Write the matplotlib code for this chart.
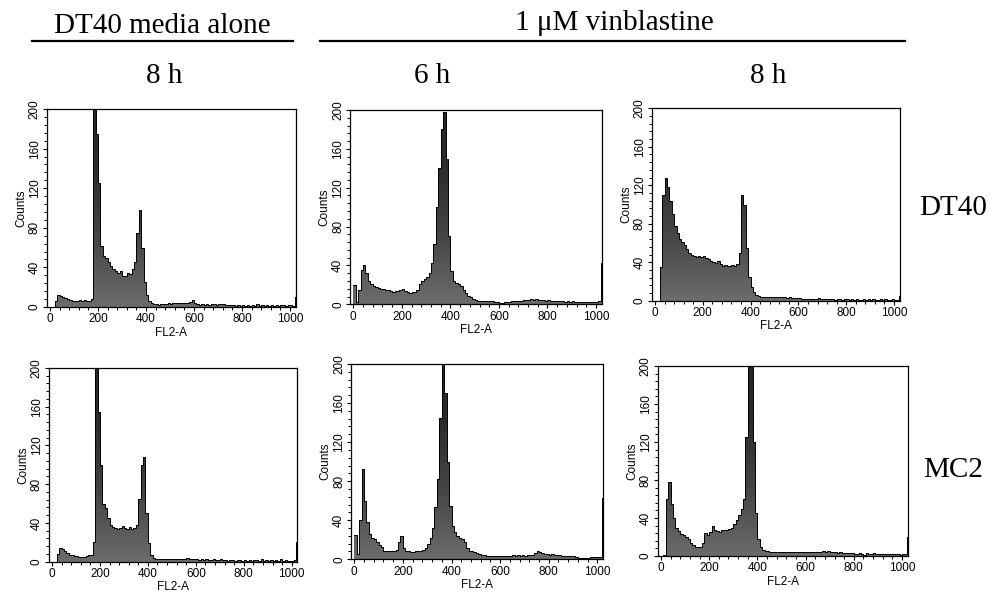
import numpy as np
import matplotlib
matplotlib.use('Agg')
import matplotlib.pyplot as plt
from matplotlib.colors import LinearSegmentedColormap
from matplotlib.ticker import MultipleLocator

# histogram counts, one value per 10 channels (FL2-A 0..1020)
media_dt40 = [0, 0, 6, 12, 11, 10, 9, 8, 7, 6,
              6, 6, 7, 6, 7, 6, 6, 8, 200, 175,
              125, 62, 52, 49, 45, 41, 38, 36, 34, 36,
              31, 31, 34, 33, 38, 45, 75, 98, 60, 25,
              12, 6, 4, 3, 3, 2, 3, 3, 3, 4,
              3, 4, 4, 4, 4, 4, 4, 4, 5, 7,
              4, 3, 2, 3, 2, 3, 2, 3, 3, 2,
              3, 3, 3, 2, 2, 2, 2, 1, 2, 1,
              2, 1, 2, 1, 2, 1, 3, 1, 2, 1,
              2, 1, 2, 1, 2, 1, 2, 2, 1, 2,
              2, 1, 10]
vin6_dt40 = [20, 2, 15, 35, 40, 32, 24, 21, 19, 18,
             17, 16, 16, 15, 15, 14, 13, 14, 14, 15,
             16, 14, 13, 12, 13, 13, 15, 21, 24, 26,
             28, 32, 42, 62, 100, 140, 180, 198, 150, 70,
             34, 24, 22, 21, 19, 15, 12, 9, 7, 5,
             4, 3, 3, 3, 3, 3, 3, 3, 2, 2,
             1, 1, 2, 2, 2, 3, 3, 3, 3, 3,
             4, 4, 4, 5, 4, 5, 4, 4, 4, 3,
             4, 3, 3, 3, 3, 3, 3, 2, 3, 2,
             3, 2, 2, 2, 2, 2, 2, 2, 2, 2,
             2, 3, 42]
vin8_dt40 = [0, 0, 35, 110, 128, 118, 104, 90, 78, 70,
             64, 61, 58, 54, 50, 47, 46, 45, 46, 45,
             46, 44, 43, 41, 40, 39, 41, 38, 36, 37,
             36, 36, 37, 36, 38, 50, 110, 100, 55, 25,
             14, 9, 6, 5, 4, 4, 4, 4, 4, 4,
             4, 4, 4, 4, 4, 3, 4, 3, 3, 3,
             3, 2, 2, 2, 2, 2, 2, 2, 3, 2,
             2, 2, 2, 2, 2, 1, 2, 2, 1, 2,
             2, 1, 2, 1, 2, 1, 1, 2, 1, 2,
             1, 2, 1, 1, 2, 1, 2, 1, 1, 2,
             1, 1, 5]
media_mc2 = [0, 0, 8, 14, 13, 11, 9, 7, 7, 6,
             6, 5, 5, 5, 6, 7, 7, 20, 200, 155,
             100, 60, 55, 45, 38, 36, 35, 34, 35, 37,
             35, 34, 36, 34, 35, 38, 65, 100, 108, 50,
             19, 7, 4, 3, 3, 3, 3, 3, 3, 3,
             3, 3, 3, 3, 3, 3, 4, 3, 3, 3,
             3, 2, 3, 2, 3, 2, 2, 3, 2, 2,
             3, 2, 2, 1, 2, 2, 1, 2, 2, 1,
             2, 1, 2, 1, 2, 2, 1, 3, 1, 2,
             1, 2, 1, 2, 1, 3, 1, 2, 1, 1,
             1, 2, 20]
vin6_mc2 = [25, 5, 40, 92, 60, 38, 26, 22, 21, 18,
            15, 13, 9, 8, 8, 8, 9, 10, 18, 24,
            12, 9, 8, 7, 7, 8, 8, 8, 10, 12,
            16, 22, 32, 54, 82, 145, 200, 170, 100, 55,
            34, 28, 24, 22, 21, 18, 12, 9, 8, 7,
            6, 5, 4, 4, 3, 3, 3, 3, 3, 3,
            3, 3, 3, 3, 3, 4, 3, 4, 3, 4,
            3, 4, 4, 4, 6, 9, 7, 6, 5, 5,
            4, 5, 4, 4, 4, 3, 3, 3, 3, 3,
            3, 2, 1, 1, 1, 1, 1, 2, 2, 2,
            2, 2, 63]
vin8_mc2 = [0, 1, 60, 78, 55, 40, 30, 26, 23, 22,
            20, 18, 14, 12, 10, 10, 10, 14, 24, 22,
            25, 32, 27, 26, 25, 27, 27, 27, 28, 30,
            34, 38, 43, 50, 60, 125, 200, 200, 120, 45,
            18, 9, 6, 5, 5, 4, 4, 4, 4, 4,
            4, 4, 4, 4, 4, 4, 4, 4, 4, 4,
            4, 4, 4, 4, 4, 4, 4, 5, 4, 5,
            4, 4, 4, 3, 4, 3, 3, 3, 3, 3,
            2, 2, 3, 2, 1, 3, 2, 2, 3, 2,
            2, 2, 2, 2, 2, 2, 2, 2, 2, 1,
            2, 2, 20]

col_titles = ['8 h', '6 h', '8 h']
row_labels = ['DT40', 'MC2']
group_titles = ['DT40 media alone', '1 \u03bcM vinblastine']

panels = [media_dt40, vin6_dt40, vin8_dt40, media_mc2, vin6_mc2, vin8_mc2]

W, H = 992, 600
fig = plt.figure(figsize=(W / 100, H / 100), dpi=100)

# pixel frames of each plot: x of channel 0, x of channel 1000, y of count 0, y of count 200
frames = [(50, 290, 307, 109), (353.3, 596, 304.3, 110), (655, 894, 300.7, 108.3),
          (52, 291.7, 561.7, 368), (354.3, 597.3, 559.3, 364), (661, 902, 556, 366)]

cmap = LinearSegmentedColormap.from_list(
    'fill', [(0, '#6c6c6c'), (0.35, '#454545'), (0.7, '#2c2c2c'), (1, '#262626')])
grad = np.linspace(0, 1, 256).reshape(-1, 1)

for counts, (px0, px1, y0, y200) in zip(panels, frames):
    s = (px1 - px0) / 1000
    left = px0 - 12 * s
    ax = fig.add_axes([left / W, 1 - y0 / H, 1036 * s / W, (y0 - y200) / H])
    y = np.array(counts, dtype=float)
    x = np.arange(len(y)) * 10
    xs = np.append(x, x[-1] + 10)
    ys = np.append(y, y[-1])
    poly = ax.fill_between(xs, ys, step='post', color='none', lw=0)
    im = ax.imshow(grad, extent=[-12, 1030, 0, 200], origin='lower', aspect='auto',
                   cmap=cmap, zorder=1)
    im.set_clip_path(poly.get_paths()[0], transform=ax.transData)
    ax.step(xs, ys, where='post', color='black', lw=0.7, zorder=2)
    ax.set_xlim(-12, 1024)
    ax.set_ylim(0, 200)
    ax.xaxis.set_major_locator(MultipleLocator(200))
    ax.xaxis.set_minor_locator(MultipleLocator(40))
    ax.yaxis.set_major_locator(MultipleLocator(40))
    ax.yaxis.set_minor_locator(MultipleLocator(8))
    ax.tick_params(which='major', length=3, width=0.8, pad=1.5, labelsize=8.5)
    ax.tick_params(which='minor', length=2, width=0.7)
    for lab in ax.get_yticklabels():
        lab.set_rotation(90)
        lab.set_va('center')
    ax.set_xlabel('FL2-A', fontsize=8.5, labelpad=1, family='Liberation Sans')
    ax.set_ylabel('Counts', fontsize=8.5, labelpad=1, family='Liberation Sans')
    for lab in ax.get_xticklabels() + ax.get_yticklabels():
        lab.set_family('Liberation Sans')
    for sp in ax.spines.values():
        sp.set_linewidth(0.9)

serif = 'Liberation Serif'
fig.text(162 / W, 1 - 26 / H, group_titles[0], ha='center', va='center', fontsize=21, family=serif)
fig.text(614 / W, 1 - 23 / H, group_titles[1], ha='center', va='center', fontsize=21, family=serif)
fig.add_artist(plt.Line2D([32 / W, 293 / W], [1 - 41 / H, 1 - 41 / H], color='black', lw=1.6))
fig.add_artist(plt.Line2D([320 / W, 905 / W], [1 - 41 / H, 1 - 41 / H], color='black', lw=1.6))

for t, cx in zip(col_titles, [164, 432, 768]):
    fig.text(cx / W, 1 - 76 / H, t, ha='center', va='center', fontsize=21, family=serif)
for t, cy in zip(row_labels, [208, 470]):
    fig.text(953 / W, 1 - cy / H, t, ha='center', va='center', fontsize=21, family=serif)

fig.savefig('out.png', dpi=100)
